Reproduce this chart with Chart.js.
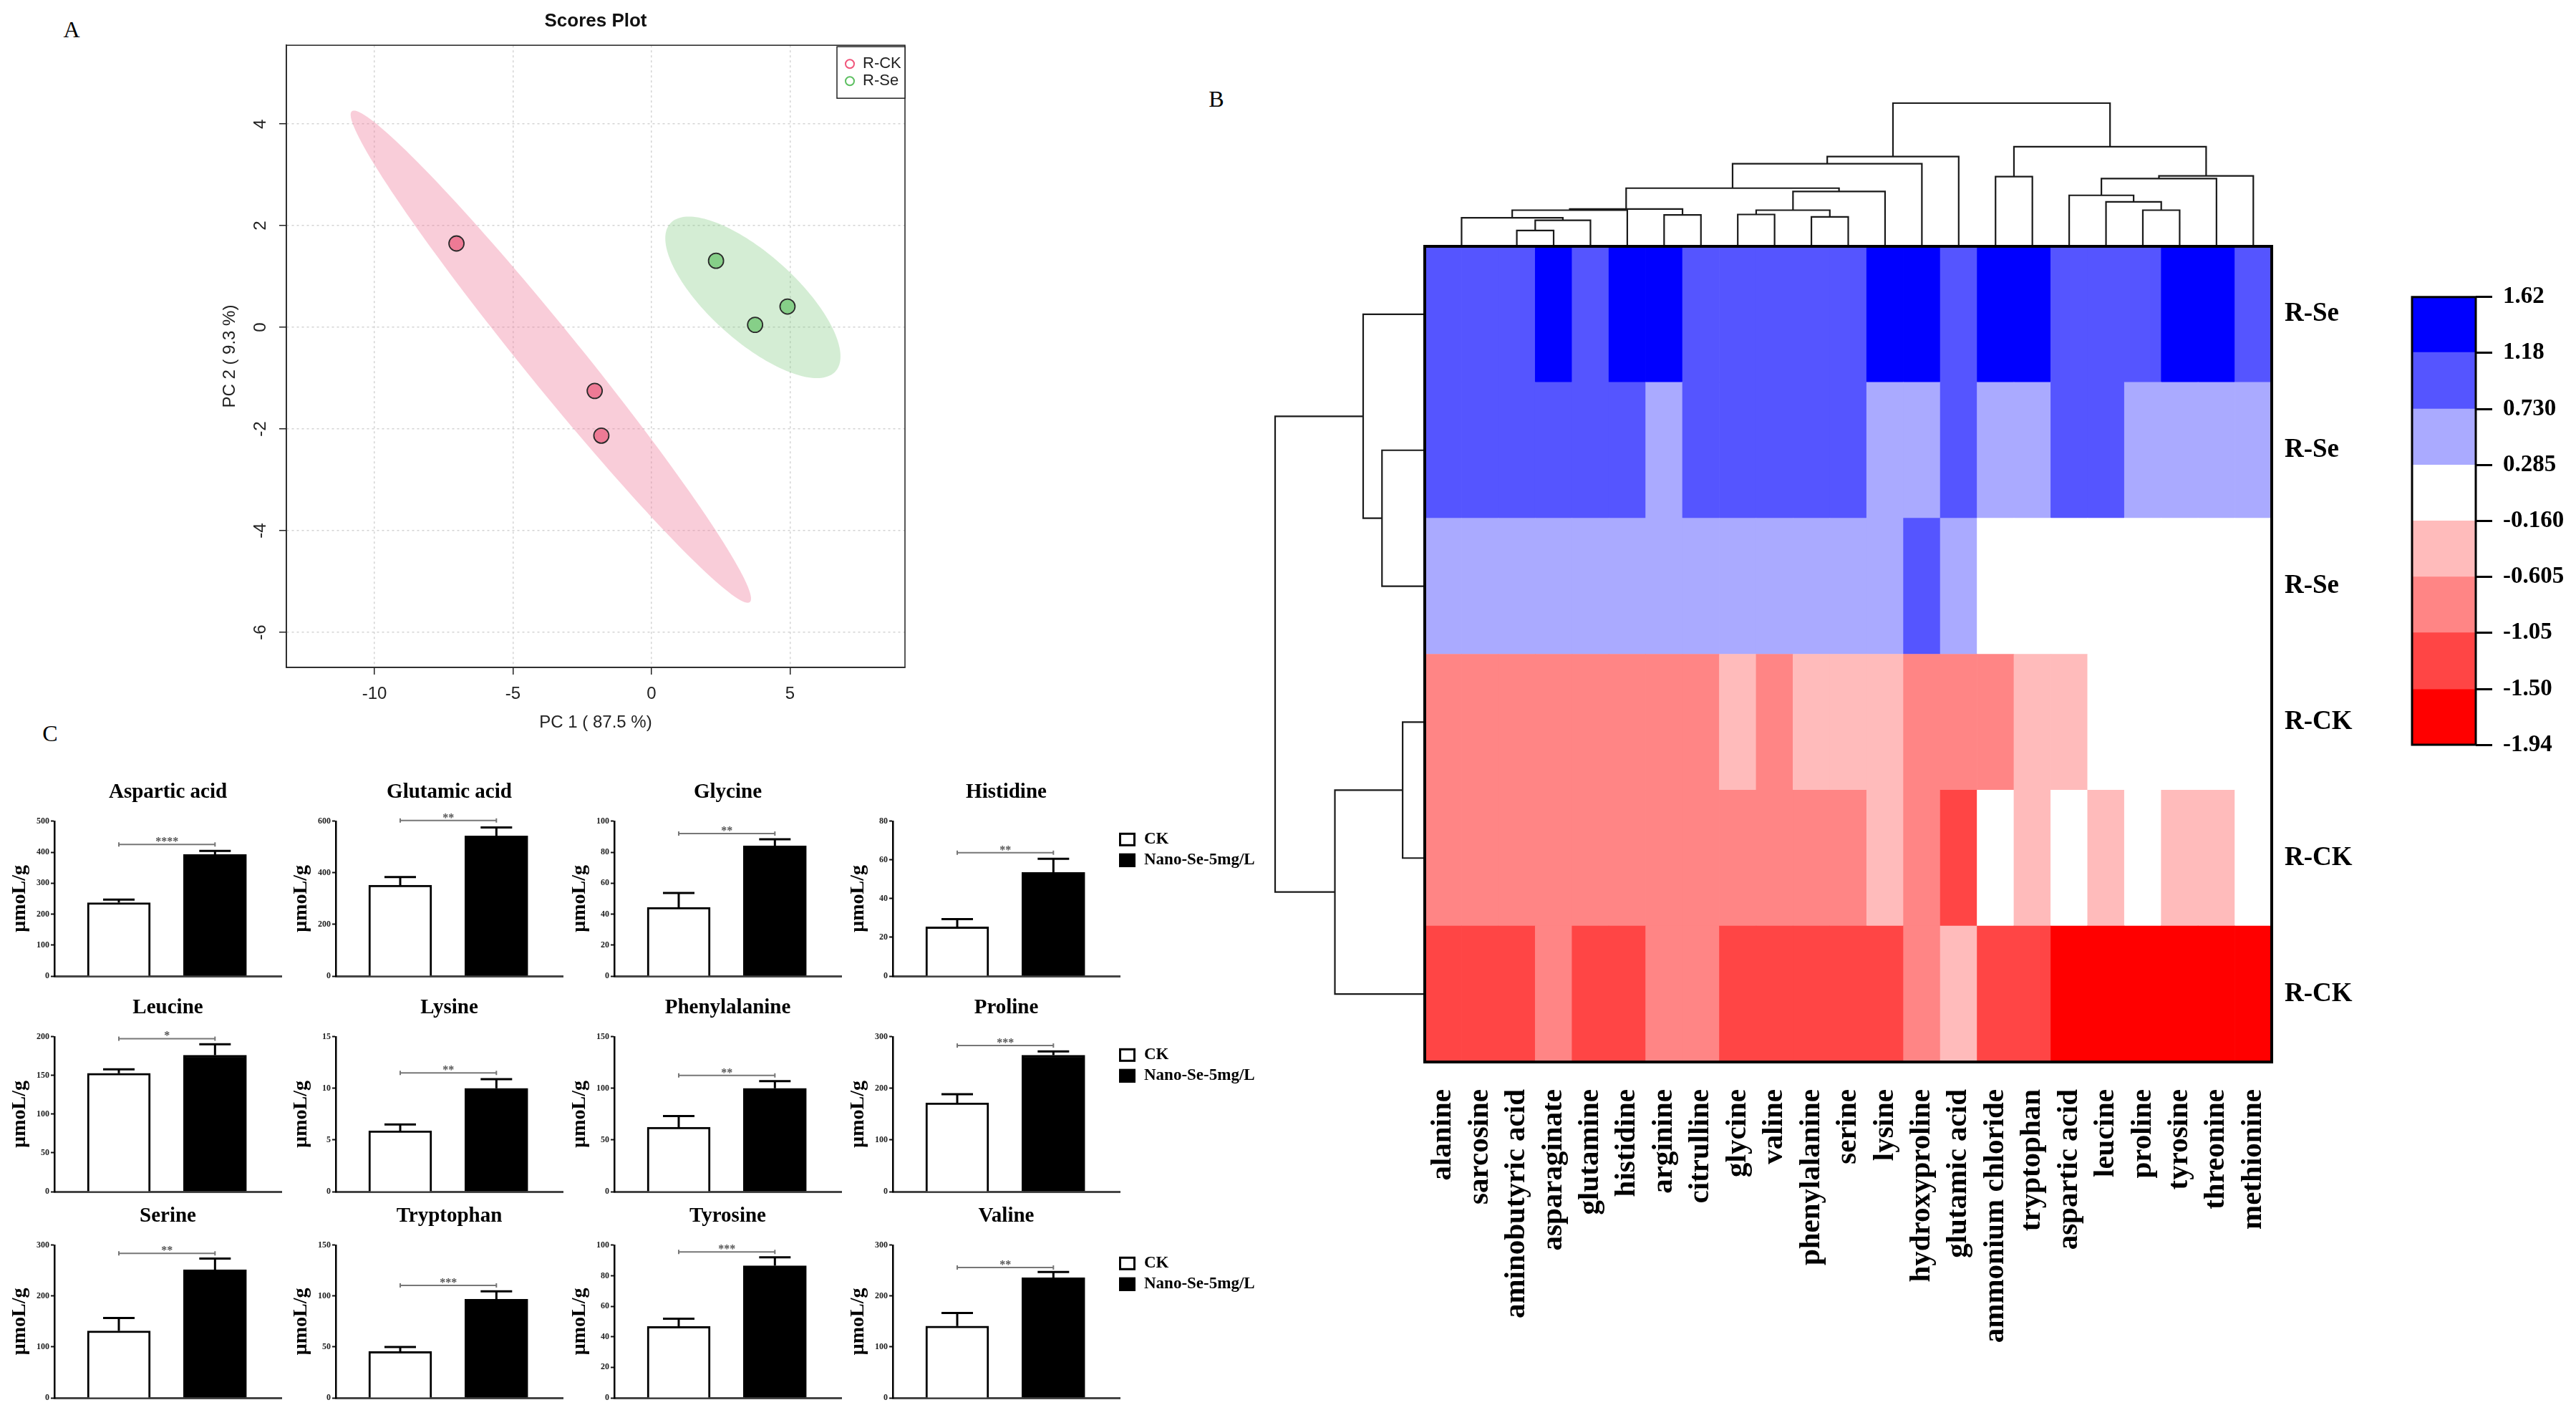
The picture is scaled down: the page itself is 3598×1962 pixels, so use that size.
<!DOCTYPE html>
<html>
<head>
<meta charset="utf-8">
<title>Amino acids: PCA, heatmap and contents</title>
<script src="https://cdn.jsdelivr.net/npm/chart.js@4.4.1/dist/chart.umd.min.js"></script>
<style>
  html, body { margin: 0; padding: 0; background: #fff; }
  #page { position: relative; width: 3598px; height: 1962px; overflow: hidden; background: #fff; }
  #page canvas { position: absolute; }
  .tag { position: absolute; font: 32px 'Liberation Serif', serif; color: #000; transform: translate(-50%, -50%); }
</style>
</head>
<body>
<div id="page">
  <div class="tag" style="left:100px;top:41px">A</div>
  <div class="tag" style="left:1699px;top:138px">B</div>
  <div class="tag" style="left:70px;top:1024px">C</div>
  <canvas id="pca"></canvas>
  <canvas id="dendTop"></canvas>
  <canvas id="dendLeft"></canvas>
  <canvas id="heat"></canvas>
  <canvas id="scaleBar"></canvas>
</div>
<script>
// ---- A: PCA scores ----
const groupNames = ['R-CK', 'R-Se'];
const ckPC1 = [-7.04, -2.05, -1.81];
const ckPC2 = [1.65, -1.25, -2.13];
const sePC1 = [2.33, 3.74, 4.91];
const sePC2 = [1.31, 0.05, 0.41];

// ---- B: heatmap (z-scores, rows top to bottom) ----
const aminoAcids = ['alanine', 'sarcosine', 'aminobutyric acid', 'asparaginate', 'glutamine', 'histidine',
  'arginine', 'citrulline', 'glycine', 'valine', 'phenylalanine', 'serine', 'lysine', 'hydroxyproline',
  'glutamic acid', 'ammonium chloride', 'tryptophan', 'aspartic acid', 'leucine', 'proline', 'tyrosine',
  'threonine', 'methionine'];
const sampleNames = ['R-Se', 'R-Se', 'R-Se', 'R-CK', 'R-CK', 'R-CK'];
const zSe1 = [0.98, 0.98, 0.92, 1.45, 1.02, 1.38, 1.33, 1.05, 1.10, 0.88, 1.01, 0.96, 1.47, 1.29, 0.90, 1.52, 1.41, 1.12, 1.07, 0.99, 1.36, 1.44, 1.15];
const zSe2 = [0.89, 0.89, 0.97, 0.84, 1.06, 0.93, 0.62, 0.81, 0.87, 1.03, 0.95, 0.86, 0.55, 0.47, 1.09, 0.58, 0.44, 0.92, 0.88, 0.60, 0.52, 0.49, 0.66];
const zSe3 = [0.48, 0.48, 0.55, 0.41, 0.52, 0.36, 0.44, 0.59, 0.50, 0.46, 0.39, 0.53, 0.42, 0.84, 0.61, 0.12, 0.08, 0.02, 0.18, 0.10, -0.05, 0.15, 0.04];
const zCk1 = [-0.78, -0.78, -0.85, -0.69, -0.92, -0.74, -0.88, -0.81, -0.52, -0.70, -0.45, -0.36, -0.48, -0.95, -0.87, -0.66, -0.41, -0.29, 0.05, -0.08, 0.11, -0.02, 0.16];
const zCk2 = [-0.91, -0.91, -0.76, -0.88, -0.72, -0.97, -0.83, -0.94, -0.79, -0.86, -0.99, -0.65, -0.33, -0.71, -1.18, 0.09, -0.44, -0.12, -0.31, 0.03, -0.47, -0.39, 0.21];
const zCk3 = [-1.21, -1.21, -1.34, -0.98, -1.28, -1.19, -0.92, -1.01, -1.39, -1.25, -1.31, -1.44, -1.17, -0.68, -0.50, -1.36, -1.42, -1.68, -1.80, -1.94, -1.75, -1.58, -1.63];
const zRows = [zSe1, zSe2, zSe3, zCk1, zCk2, zCk3];
const colorBreaks = [-1.94, -1.50, -1.05, -0.605, -0.160, 0.285, 0.730, 1.18, 1.62];
const breakLabels = ['-1.94', '-1.50', '-1.05', '-0.605', '-0.160', '0.285', '0.730', '1.18', '1.62'];
const binColors = ['#FF0000', '#FF4545', '#FF8585', '#FFBBBB', '#FFFFFF', '#AAAAFF', '#5555FF', '#0000FF'];
// clustering: [left, right, height]; -k = leaf k (1-based), +m = merge m
const colMerges = [[-1, -2, 0.00], [-3, -4, 0.63], [2, -5, 1.06], [1, 3, 1.16], [4, -6, 1.48], [-7, -8, 1.28],
  [5, 6, 1.53], [-9, -10, 1.30], [-11, -12, 1.20], [8, 9, 1.48], [10, -13, 2.26], [7, 11, 2.40], [12, -14, 3.42],
  [13, -15, 3.72], [-16, -17, 2.88], [-20, -21, 1.48], [-19, 16, 1.83], [-18, 17, 2.10], [18, -22, 2.80],
  [19, -23, 2.91], [15, 20, 4.13], [14, 21, 5.95]];
const rowMerges = [[-2, -3, 1.18], [-1, 1, 1.70], [-4, -5, 0.61], [3, -6, 2.48], [2, 4, 4.13]];

// ---- C: contents (umol/g), mean and SE ----
const acids = ['Aspartic acid', 'Glutamic acid', 'Glycine', 'Histidine', 'Leucine', 'Lysine',
  'Phenylalanine', 'Proline', 'Serine', 'Tryptophan', 'Tyrosine', 'Valine'];
const ckMean = [237, 352, 44.4, 25.4, 152.8, 5.9, 62.3, 172, 131.6, 45.5, 46.8, 141];
const ckSE = [10, 32, 9.3, 4, 5.1, 0.6, 10.9, 16.6, 25.2, 4.5, 5, 25.8];
const seMean = [393, 543, 84.1, 53.5, 176.2, 10.0, 100.1, 264.3, 251.6, 96.8, 86.5, 235.8];
const seSE = [11, 33, 4.3, 7.1, 14.1, 0.9, 7, 7.3, 22.1, 7.9, 5.6, 11.6];
const yMax = [500, 600, 100, 80, 200, 15, 150, 300, 300, 150, 100, 300];
const yStep = [100, 200, 20, 20, 50, 5, 50, 100, 100, 50, 20, 100];
const stars = ['****', '**', '**', '**', '*', '**', '**', '***', '**', '***', '***', '**'];
const sigAt = [425, 603, 92, 63.7, 197.6, 11.5, 112.5, 283, 284, 110.5, 95.6, 256];

Chart.defaults.animation = false;
Chart.defaults.responsive = false;
Chart.defaults.events = [];
Chart.defaults.plugins.legend.display = false;
Chart.defaults.plugins.tooltip.enabled = false;
Chart.defaults.font.family = "'Liberation Serif', 'Times New Roman', serif";
Chart.defaults.color = '#000';
const sans = "'Liberation Sans', Arial, sans-serif";

function place(canvas, left, top, width, height) {
    canvas.width = width;
    canvas.height = height;
    canvas.style.left = left + 'px';
    canvas.style.top = top + 'px';
    return canvas;
}

function binColor(v) {
    let k = 0;
    while (k < binColors.length - 1 && v >= colorBreaks[k + 1]) k++;
    return binColors[k];
}

// elbow segments of a dendrogram, leaf k sits at position k
function treeSegments(merges) {
    const pos = [], hgt = [];
    const node = ref => ref < 0 ? [-ref - 1, 0] : [pos[ref - 1], hgt[ref - 1]];
    const segs = [];
    merges.forEach(([a, b, h]) => {
        const [pa, ha] = node(a), [pb, hb] = node(b);
        segs.push([pa, ha], [pa, h], [pb, h], [pb, hb], [NaN, NaN]);
        pos.push((pa + pb) / 2);
        hgt.push(h);
    });
    return segs;
}

// box round the plot area
const frame = {
    id: 'frame',
    afterDraw(chart, args, opts) {
        if (!opts.width) return;
        const {ctx, chartArea: a} = chart;
        ctx.save();
        ctx.lineWidth = opts.width;
        ctx.strokeStyle = opts.color || '#000';
        ctx.strokeRect(a.left, a.top, a.right - a.left, a.bottom - a.top);
        ctx.restore();
    }
};

// 95% confidence ellipse of each group, from the points themselves
const confidenceEllipse = {
    id: 'confidenceEllipse',
    beforeDatasetsDraw(chart, args, opts) {
        const {ctx, chartArea: a, scales: {x, y}} = chart;
        const k = Math.sqrt(5.991);
        chart.data.datasets.forEach((ds, i) => {
            const pts = ds.data, n = pts.length;
            const mx = pts.reduce((s, p) => s + p.x, 0) / n;
            const my = pts.reduce((s, p) => s + p.y, 0) / n;
            let sxx = 0, syy = 0, sxy = 0;
            pts.forEach(p => {
                sxx += (p.x - mx) ** 2;
                syy += (p.y - my) ** 2;
                sxy += (p.x - mx) * (p.y - my);
            });
            sxx /= n - 1; syy /= n - 1; sxy /= n - 1;
            const tr = sxx + syy, det = sxx * syy - sxy * sxy;
            const d = Math.sqrt(Math.max(tr * tr / 4 - det, 0));
            const l1 = tr / 2 + d, l2 = tr / 2 - d;
            const ang = Math.atan2(l1 - sxx, sxy);
            const c = Math.cos(ang), s = Math.sin(ang);
            const r1 = k * Math.sqrt(l1), r2 = k * Math.sqrt(Math.max(l2, 0));
            ctx.save();
            ctx.beginPath();
            ctx.rect(a.left, a.top, a.right - a.left, a.bottom - a.top);
            ctx.clip();
            ctx.beginPath();
            for (let t = 0; t <= 160; t++) {
                const th = t / 160 * 2 * Math.PI;
                const u = r1 * Math.cos(th), v = r2 * Math.sin(th);
                const px = x.getPixelForValue(mx + u * c - v * s);
                const py = y.getPixelForValue(my + u * s + v * c);
                if (t) ctx.lineTo(px, py); else ctx.moveTo(px, py);
            }
            ctx.closePath();
            ctx.fillStyle = opts.fills[i];
            ctx.fill();
            ctx.restore();
        });
    }
};

// small legend box in the top right corner of the scores plot
const scoreKey = {
    id: 'scoreKey',
    afterDraw(chart, args, opts) {
        const {ctx, chartArea: a} = chart;
        const w = 95, h = 72, x0 = a.right - w, y0 = a.top + 2;
        ctx.save();
        ctx.fillStyle = '#fff';
        ctx.fillRect(x0, y0, w, h);
        ctx.strokeStyle = '#222';
        ctx.lineWidth = 1.5;
        ctx.strokeRect(x0, y0, w, h);
        ctx.font = '22px ' + sans;
        ctx.textBaseline = 'middle';
        chart.data.datasets.forEach((ds, i) => {
            const cy = y0 + 24 + i * 24;
            ctx.beginPath();
            ctx.arc(x0 + 18, cy, 6, 0, 2 * Math.PI);
            ctx.strokeStyle = opts.colors[i];
            ctx.lineWidth = 2;
            ctx.stroke();
            ctx.fillStyle = '#222';
            ctx.fillText(ds.label, x0 + 36, cy);
        });
        ctx.restore();
    }
};

// upper error bars (SE) on the bars
const errorBars = {
    id: 'errorBars',
    afterDatasetsDraw(chart, args, opts) {
        if (!opts.se) return;
        const {ctx, scales: {y}} = chart;
        chart.data.datasets.forEach((ds, di) => {
            const bar = chart.getDatasetMeta(di).data[0];
            const mean = ds.data[0].y;
            const y0 = y.getPixelForValue(mean), y1 = y.getPixelForValue(mean + opts.se[di]);
            ctx.save();
            ctx.strokeStyle = '#000';
            ctx.lineWidth = 3;
            ctx.beginPath();
            ctx.moveTo(bar.x, y0);
            ctx.lineTo(bar.x, y1);
            ctx.moveTo(bar.x - opts.cap, y1);
            ctx.lineTo(bar.x + opts.cap, y1);
            ctx.stroke();
            ctx.restore();
        });
    }
};

// significance bracket with stars
const sigBracket = {
    id: 'sigBracket',
    afterDatasetsDraw(chart, args, opts) {
        if (opts.at == null) return;
        const {ctx, scales: {x, y}} = chart;
        const x0 = x.getPixelForValue(0), x1 = x.getPixelForValue(1), yy = y.getPixelForValue(opts.at);
        ctx.save();
        ctx.strokeStyle = '#777';
        ctx.lineWidth = 2;
        ctx.beginPath();
        ctx.moveTo(x0, yy); ctx.lineTo(x1, yy);
        ctx.moveTo(x0, yy - 3); ctx.lineTo(x0, yy + 3);
        ctx.moveTo(x1, yy - 3); ctx.lineTo(x1, yy + 3);
        ctx.stroke();
        ctx.fillStyle = '#555';
        ctx.font = "bold 16px 'Liberation Serif', serif";
        ctx.textAlign = 'center';
        ctx.textBaseline = 'alphabetic';
        ctx.fillText(opts.text, (x0 + x1) / 2, yy + 1);
        ctx.restore();
    }
};

// CK / Nano-Se key right of the last chart in each row
const groupKey = {
    id: 'groupKey',
    afterDraw(chart, args, opts) {
        if (!opts.show) return;
        const {ctx, chartArea: a} = chart;
        const x0 = a.right - 1;
        ctx.save();
        ctx.font = "bold 23px 'Liberation Serif', serif";
        ctx.textBaseline = 'middle';
        ctx.textAlign = 'left';
        chart.data.datasets.forEach((ds, i) => {
            const cy = a.top + 25 + i * 29;
            ctx.fillStyle = ds.backgroundColor;
            ctx.fillRect(x0, cy - 9, 23, 19);
            ctx.strokeStyle = '#000';
            ctx.lineWidth = 3;
            ctx.strokeRect(x0 + 1.5, cy - 7.5, 20, 16);
            ctx.fillStyle = '#000';
            ctx.fillText(ds.label, x0 + 35, cy);
        });
        ctx.restore();
    }
};

// ---------- A ----------
new Chart(place(document.getElementById('pca'), 250, 0, 1100, 1060), {
    type: 'scatter',
    data: {
        datasets: [
            {label: groupNames[0], data: ckPC1.map((v, i) => ({x: v, y: ckPC2[i]})), pointBackgroundColor: '#EE7A95'},
            {label: groupNames[1], data: sePC1.map((v, i) => ({x: v, y: sePC2[i]})), pointBackgroundColor: '#86CF88'}
        ]
    },
    options: {
        layout: {padding: {right: 86}},
        elements: {point: {radius: 10.5, borderColor: '#2a2a2a', borderWidth: 1.8}},
        plugins: {
            title: {display: true, text: 'Scores Plot', fullSize: false, color: '#111',
                font: {family: sans, size: 26, weight: 'bold'}, padding: {top: 14, bottom: 18}},
            confidenceEllipse: {fills: ['rgba(240,130,160,0.4)', 'rgba(120,200,120,0.32)']},
            scoreKey: {colors: ['#F0557A', '#5CBF60']},
            frame: {width: 1.5, color: '#222'}
        },
        scales: {
            x: {
                min: -13.18, max: 9.15,
                ticks: {stepSize: 5, includeBounds: false, padding: 13, color: '#222', font: {family: sans, size: 24}},
                grid: {color: '#d4d4d4', lineWidth: 1.5, tickLength: 10, tickColor: '#222', tickWidth: 1.5},
                border: {dash: [3, 4], color: '#222', width: 1.5},
                title: {display: true, text: 'PC 1 ( 87.5 %)', color: '#222', font: {family: sans, size: 24}, padding: {top: 0, bottom: 36}},
                afterFit: s => { s.height = 128; }
            },
            y: {
                min: -6.69, max: 5.55,
                ticks: {stepSize: 2, includeBounds: false, minRotation: 90, maxRotation: 90, crossAlign: 'center',
                    padding: 15, color: '#222', font: {family: sans, size: 24}},
                grid: {color: '#d4d4d4', lineWidth: 1.5, tickLength: 10, tickColor: '#222', tickWidth: 1.5},
                border: {dash: [3, 4], color: '#222', width: 1.5},
                title: {display: true, text: 'PC 2 ( 9.3 %)', color: '#222', font: {family: sans, size: 24}, padding: {top: 57, bottom: 0}},
                afterFit: s => { s.width = 150; }
            }
        }
    },
    plugins: [confidenceEllipse, frame, scoreKey]
});

// ---------- B ----------
const treeLine = {showLine: true, pointRadius: 0, borderColor: '#1a1a1a', borderWidth: 2.2, clip: false};

new Chart(place(document.getElementById('dendTop'), 1980, 120, 1203, 223), {
    type: 'scatter',
    data: {datasets: [Object.assign({data: treeSegments(colMerges).map(([p, h]) => ({x: p, y: h}))}, treeLine)]},
    options: {
        layout: {padding: {left: 10, right: 10, top: 24, bottom: 0}},
        scales: {
            x: {type: 'linear', min: -0.5, max: aminoAcids.length - 0.5, display: false},
            y: {min: 0, max: colMerges[colMerges.length - 1][2], display: false}
        }
    }
});

new Chart(place(document.getElementById('dendLeft'), 1760, 334, 230, 1159), {
    type: 'scatter',
    data: {datasets: [Object.assign({data: treeSegments(rowMerges).map(([p, h]) => ({x: h, y: p}))}, treeLine)]},
    options: {
        layout: {padding: {left: 21, right: 0, top: 10, bottom: 10}},
        scales: {
            x: {type: 'linear', min: 0, max: rowMerges[rowMerges.length - 1][2], reverse: true, display: false},
            y: {min: -0.5, max: sampleNames.length - 0.5, reverse: true, display: false}
        }
    }
});

new Chart(place(document.getElementById('heat'), 1980, 304, 1343, 1619), {
    type: 'bar',
    data: {
        labels: aminoAcids,
        datasets: zRows.map((row, r) => ({
            label: sampleNames[r],
            data: row.map(() => 1),
            backgroundColor: row.map(binColor),
            yAxisID: 'y'
        })).reverse()
    },
    options: {
        layout: {padding: {left: 10, top: 40, right: 0, bottom: 0}},
        datasets: {bar: {barPercentage: 1, categoryPercentage: 1, borderWidth: 0}},
        plugins: {frame: {width: 4, color: '#000'}},
        scales: {
            x: {
                stacked: true,
                grid: {display: false}, border: {display: false},
                ticks: {autoSkip: false, minRotation: 90, maxRotation: 90, padding: 30, color: '#000',
                    font: {size: 41, weight: 'bold'}},
                afterFit: s => { s.height = 440; }
            },
            y: {stacked: true, min: 0, max: sampleNames.length, display: false},
            rows: {
                type: 'category', axis: 'y', labels: sampleNames, offset: true, position: 'right',
                grid: {display: false}, border: {display: false},
                ticks: {padding: 10, color: '#000', font: {size: 37, weight: 'bold'}},
                afterFit: s => { s.width = 150; }
            }
        }
    },
    plugins: [frame]
});

new Chart(place(document.getElementById('scaleBar'), 3340, 380, 258, 700), {
    type: 'bar',
    data: {
        labels: [''],
        datasets: binColors.map((col, k) => ({data: [[colorBreaks[k], colorBreaks[k + 1]]], backgroundColor: col}))
    },
    options: {
        layout: {padding: {left: 29, top: 29, bottom: 40, right: 0}},
        datasets: {bar: {grouped: false, barPercentage: 1, categoryPercentage: 1, borderWidth: 0}},
        plugins: {frame: {width: 3, color: '#000'}},
        scales: {
            x: {display: false},
            y: {
                position: 'right',
                min: colorBreaks[0], max: colorBreaks[colorBreaks.length - 1],
                afterBuildTicks: s => { s.ticks = colorBreaks.map(v => ({value: v})); },
                ticks: {autoSkip: false, padding: 15, color: '#000', font: {size: 33, weight: 'bold'},
                    callback: (v, i) => breakLabels[i]},
                grid: {drawOnChartArea: false, tickLength: 23, tickColor: '#000', tickWidth: 3},
                border: {display: false},
                afterFit: s => { s.width = 140; }
            }
        }
    },
    plugins: [frame]
});

// ---------- C ----------
const colAxisX = [76, 469, 858, 1247];
const rowTopY = [1147, 1448, 1739];
const rowZeroY = [1363, 1664, 1952];
const plotWidth = 317;
const page = document.getElementById('page');

acids.forEach((name, i) => {
    const r = Math.floor(i / 4), c = i % 4;
    const withKey = c === 3;
    const rightPad = withKey ? 230 : 12;
    const left = colAxisX[c] - 70, top = rowTopY[r] - 68;
    const cv = document.createElement('canvas');
    page.appendChild(cv);
    place(cv, left, top, 70 + plotWidth + rightPad, rowZeroY[r] - top + 12);

    new Chart(cv, {
        type: 'bar',
        data: {
            datasets: [
                {label: 'CK', data: [{x: 0, y: ckMean[i]}], backgroundColor: '#fff'},
                {label: 'Nano-Se-5mg/L', data: [{x: 1, y: seMean[i]}], backgroundColor: '#000'}
            ]
        },
        options: {
            layout: {padding: {right: rightPad}},
            datasets: {bar: {grouped: false, barThickness: 88, borderColor: '#000', borderWidth: 3}},
            plugins: {
                title: {display: true, text: name, fullSize: false, color: '#000',
                    font: {size: 29, weight: 'bold'}, padding: {top: 10, bottom: 23}},
                errorBars: {se: [ckSE[i], seSE[i]], cap: 22},
                sigBracket: {at: sigAt[i], text: stars[i]},
                groupKey: {show: withKey}
            },
            scales: {
                x: {
                    type: 'linear', min: -0.67, max: 1.69, offset: false,
                    ticks: {display: false}, grid: {display: false},
                    border: {color: '#444', width: 3},
                    afterFit: s => { s.height = 12; }
                },
                y: {
                    min: 0, max: yMax[i],
                    ticks: {stepSize: yStep[i], padding: 2, color: '#222', font: {size: 12, weight: 'bold'}},
                    grid: {drawOnChartArea: false, tickLength: 5, tickColor: '#111', tickWidth: 2},
                    border: {color: '#000', width: 2.5},
                    title: {display: true, text: 'μmoL/g', color: '#000', font: {size: 28, weight: 'bold'},
                        padding: {top: 5, bottom: 0}},
                    afterFit: s => { s.width = 70; }
                }
            }
        },
        plugins: [errorBars, sigBracket, groupKey]
    });
});
</script>
</body>
</html>
